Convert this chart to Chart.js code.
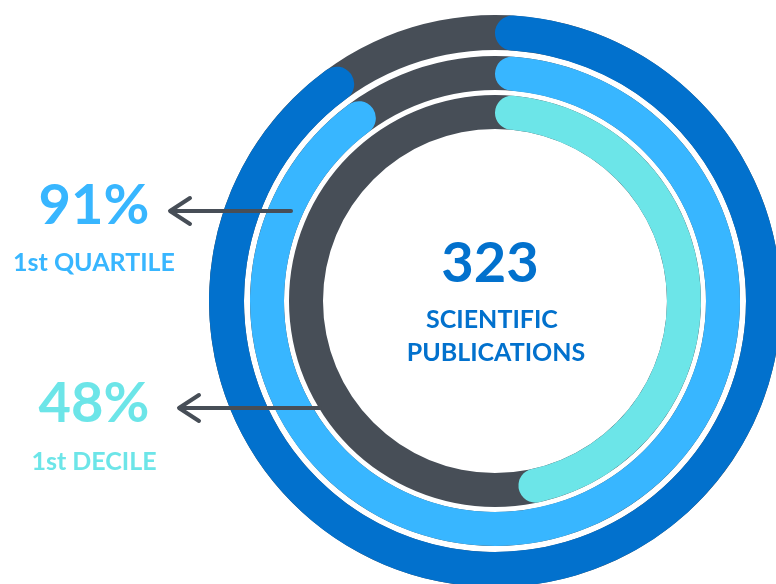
<!DOCTYPE html>
<html>
<head>
<meta charset="utf-8">
<script src="https://cdn.jsdelivr.net/npm/chart.js@4.4.1/dist/chart.umd.min.js"></script>
<style>
  html, body { margin: 0; padding: 0; background: #fff; width: 776px; height: 584px; overflow: hidden; }
  body { position: relative; font-family: Lato, "Open Sans", sans-serif; }
  .ring { position: absolute; left: 209px; top: 15px; width: 572px; height: 572px; }
  .txt { position: absolute; line-height: 1; text-align: center; white-space: nowrap; }
  .side { left: 0; width: 188px; }
  .mid { left: 392px; width: 200px; color: #0271cd; font-weight: 700; }
  svg { position: absolute; left: 0; top: 0; }
</style>
</head>
<body>
<div class="ring"><canvas id="track" width="572" height="572"></canvas></div>
<div class="ring"><canvas id="rings" width="572" height="572"></canvas></div>

<svg width="776" height="584">
  <g stroke="#474e57" stroke-width="4" stroke-linecap="round" stroke-linejoin="round" fill="none">
    <line x1="291" y1="211" x2="171" y2="211"/>
    <polyline points="190,198 170,211 190,224"/>
    <line x1="320" y1="408" x2="180" y2="408"/>
    <polyline points="199,395 179,408 199,421"/>
  </g>
</svg>

<div class="txt side" id="q1pct" style="top:175px;font-size:56px;font-weight:700;color:#38b6ff"></div>
<div class="txt side" id="q1lbl" style="top:249px;font-size:25px;font-weight:700;color:#38b6ff"></div>
<div class="txt side" id="d1pct" style="top:373px;font-size:56px;font-weight:700;color:#6ce5e8"></div>
<div class="txt side" id="d1lbl" style="top:448px;font-size:25px;font-weight:700;color:#6ce5e8"></div>

<div class="txt mid" id="total" style="top:233px;font-size:56px;left:390px"></div>
<div class="txt mid" id="cap1" style="top:306px;font-size:25px"></div>
<div class="txt mid" id="cap2" style="top:339px;font-size:25px;left:396px"></div>

<script>
// rings from outside to inside
const ringNames = ['Publications', '1st Quartile', '1st Decile'];
const ringValues = [91, 91, 48];
const ringColors = ['#0271cd', '#38b6ff', '#6ce5e8'];
const trackColor = '#474e57';

const totalPublications = 323;
const captionLines = ['SCIENTIFIC', 'PUBLICATIONS'];
const sideLabels = ['1st QUARTILE', '1st DECILE'];

// ring thickness and the white gaps between them
const ringWeights = [35, 34, 34];
const gapWeights = [6, 5];
const holeSize = 172;

function buildDatasets(makeRing) {
  const sets = [];
  ringNames.forEach((name, i) => {
    sets.push(Object.assign({ label: name, weight: ringWeights[i], borderWidth: 0 }, makeRing(i)));
    if (i < gapWeights.length) {
      sets.push({ label: 'gap', data: [100], backgroundColor: ['rgba(0,0,0,0)'], weight: gapWeights[i], borderWidth: 0 });
    }
  });
  return sets;
}

const baseOptions = {
  responsive: false,
  animation: false,
  cutout: holeSize,
  events: [],
  layout: { padding: 0 },
  plugins: { legend: { display: false }, tooltip: { enabled: false } }
};

new Chart(document.getElementById('track'), {
  type: 'doughnut',
  data: {
    labels: ['track'],
    datasets: buildDatasets(() => ({ data: [100], backgroundColor: [trackColor] }))
  },
  options: baseOptions
});

new Chart(document.getElementById('rings'), {
  type: 'doughnut',
  data: {
    labels: ['share', 'rest'],
    datasets: buildDatasets(i => ({
      data: [ringValues[i], 100 - ringValues[i]],
      backgroundColor: [ringColors[i], 'rgba(0,0,0,0)'],
      borderRadius: 20
    }))
  },
  options: baseOptions
});

document.getElementById('q1pct').textContent = ringValues[1] + '%';
document.getElementById('q1lbl').textContent = sideLabels[0];
document.getElementById('d1pct').textContent = ringValues[2] + '%';
document.getElementById('d1lbl').textContent = sideLabels[1];
document.getElementById('total').textContent = totalPublications;
document.getElementById('cap1').textContent = captionLines[0];
document.getElementById('cap2').textContent = captionLines[1];
</script>
</body>
</html>
